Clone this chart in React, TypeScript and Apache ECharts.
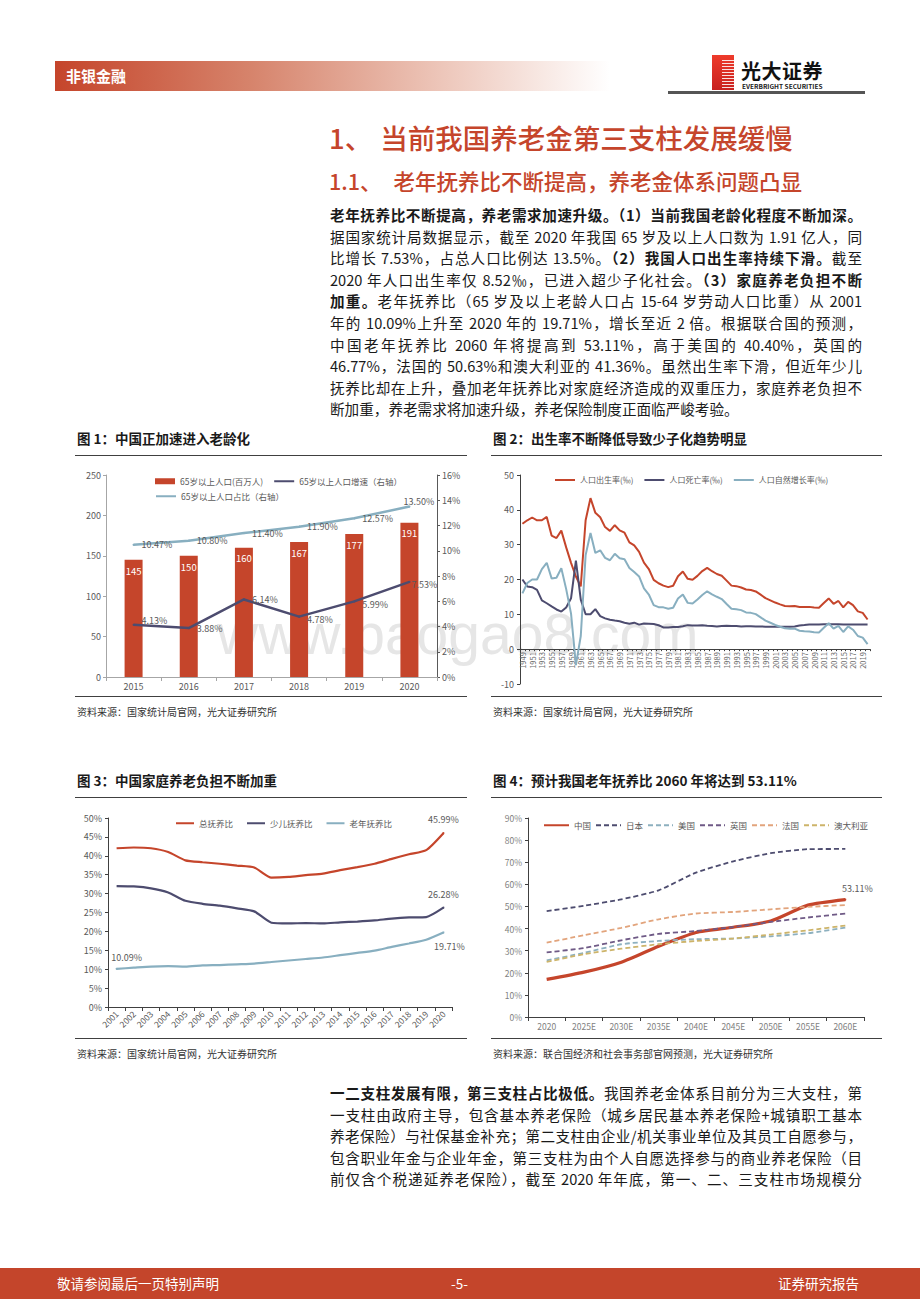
import React, { useEffect, useRef } from "react";
import * as echarts from "echarts";

const FONT = '"Noto Sans CJK SC", "Noto Sans", sans-serif';
const RED = "#C5452B";
const NAVY = "#4D4C6F";
const LBLUE = "#88AFC0";
const LABEL = "#595959";

// ---------- Figure 1 ----------
const fig1Years = ["2015", "2016", "2017", "2018", "2019", "2020"];
const fig1Pop = [145, 150, 160, 167, 177, 191];
const fig1Growth = [4.13, 3.88, 6.14, 4.78, 5.99, 7.53];
const fig1Share = [10.47, 10.8, 11.4, 11.9, 12.57, 13.5];
const fig1Names = ["65岁以上人口(百万人)", "65岁以上人口增速（右轴）", "65岁以上人口占比（右轴）"];

// ---------- Figure 2 ----------
const fig2Years = [
  "1949", "1950", "1951", "1952", "1953", "1954", "1955", "1956", "1957", "1958",
  "1959", "1960", "1961", "1962", "1963", "1964", "1965", "1966", "1967", "1968",
  "1969", "1970", "1971", "1972", "1973", "1974", "1975", "1976", "1977", "1978",
  "1979", "1980", "1981", "1982", "1983", "1984", "1985", "1986", "1987", "1988",
  "1989", "1990", "1991", "1992", "1993", "1994", "1995", "1996", "1997", "1998",
  "1999", "2000", "2001", "2002", "2003", "2004", "2005", "2006", "2007", "2008",
  "2009", "2010", "2011", "2012", "2013", "2014", "2015", "2016", "2017", "2018",
  "2019", "2020",
];
const fig2Birth = [
  36.0, 37.0, 37.8, 37.0, 37.0, 37.97, 32.6, 31.9, 34.03, 29.22,
  24.78, 20.86, 18.02, 37.01, 43.37, 39.14, 37.88, 35.05, 33.96, 35.59,
  34.11, 33.43, 30.65, 29.77, 27.93, 24.82, 23.01, 19.91, 18.93, 18.25,
  17.82, 18.21, 20.91, 22.28, 20.19, 19.9, 21.04, 22.43, 23.33, 22.37,
  21.58, 21.06, 19.68, 18.24, 18.09, 17.7, 17.12, 16.98, 16.57, 15.64,
  14.64, 14.03, 13.38, 12.86, 12.41, 12.29, 12.4, 12.09, 12.1, 12.14,
  11.95, 11.9, 13.27, 14.57, 13.03, 13.83, 11.99, 13.57, 12.64, 10.86,
  10.41, 8.52,
];
const fig2Death = [
  20.0, 18.0, 17.8, 17.0, 14.0, 13.18, 12.28, 11.4, 10.8, 11.98,
  14.59, 25.43, 14.24, 10.02, 10.04, 11.5, 9.5, 8.83, 8.43, 8.21,
  8.03, 7.6, 7.32, 7.61, 7.04, 7.34, 7.32, 7.25, 6.87, 6.25,
  6.21, 6.34, 6.36, 6.6, 6.9, 6.82, 6.78, 6.86, 6.72, 6.64,
  6.54, 6.67, 6.7, 6.64, 6.64, 6.49, 6.57, 6.56, 6.51, 6.5,
  6.46, 6.45, 6.43, 6.41, 6.4, 6.42, 6.51, 6.81, 6.93, 7.06,
  7.08, 7.11, 7.14, 7.13, 7.13, 7.12, 7.11, 7.09, 7.11, 7.08,
  7.09, 7.07,
];
const fig2Natural = [
  16.0, 19.0, 20.0, 20.0, 23.0, 24.79, 20.32, 20.5, 23.23, 17.24,
  10.19, -4.57, 3.78, 26.99, 33.33, 27.64, 28.38, 26.22, 25.53, 27.38,
  26.08, 25.83, 23.33, 22.16, 20.89, 17.48, 15.69, 12.66, 12.06, 12.0,
  11.61, 11.87, 14.55, 15.68, 13.29, 13.08, 14.26, 15.57, 16.61, 15.73,
  15.04, 14.39, 12.98, 11.6, 11.45, 11.21, 10.55, 10.42, 10.06, 9.14,
  8.18, 7.58, 6.95, 6.45, 6.01, 5.87, 5.89, 5.28, 5.17, 5.08,
  4.87, 4.79, 6.13, 7.43, 5.9, 6.71, 4.93, 6.53, 5.58, 3.78,
  3.32, 1.45,
];
const fig2Names = ["人口出生率(‰)", "人口死亡率(‰)", "人口自然增长率(‰)"];
const fig2YMin = -10;
const fig2YMax = 50;

// ---------- Figure 3 ----------
const fig3Years = [
  "2001", "2002", "2003", "2004", "2005", "2006", "2007", "2008", "2009", "2010",
  "2011", "2012", "2013", "2014", "2015", "2016", "2017", "2018", "2019", "2020",
];
const fig3Total = [42.0, 42.2, 42.0, 41.0, 38.8, 38.3, 37.9, 37.4, 36.9, 34.2, 34.4, 34.9, 35.3, 36.2, 37.0, 37.9, 39.2, 40.4, 41.5, 45.99];
const fig3Child = [32.0, 31.9, 31.4, 30.3, 28.1, 27.3, 26.8, 26.1, 25.3, 22.3, 22.1, 22.2, 22.1, 22.4, 22.6, 22.9, 23.4, 23.7, 23.8, 26.28];
const fig3Elder = [10.09, 10.4, 10.7, 10.8, 10.7, 11.0, 11.1, 11.3, 11.5, 11.9, 12.3, 12.7, 13.1, 13.7, 14.3, 14.9, 15.9, 16.8, 17.8, 19.71];
const fig3Names = ["总抚养比", "少儿抚养比", "老年抚养比"];

// ---------- Figure 4 ----------
const fig4Years = ["2020", "2025E", "2030E", "2035E", "2040E", "2045E", "2050E", "2055E", "2060E"];
const fig4China = [17.0, 20.3, 24.8, 32.0, 38.2, 40.6, 43.4, 50.6, 53.11];
const fig4Japan = [47.9, 50.3, 53.2, 57.3, 65.3, 70.4, 74.1, 75.9, 76.0];
const fig4USA = [25.6, 29.0, 32.9, 34.4, 35.2, 35.5, 36.5, 37.9, 40.4];
const fig4UK = [29.2, 31.2, 34.7, 37.6, 38.9, 40.7, 43.0, 45.0, 46.77];
const fig4France = [33.6, 37.0, 40.3, 44.2, 46.8, 47.5, 48.7, 49.8, 50.63];
const fig4Australia = [24.9, 28.4, 30.9, 32.9, 34.4, 35.5, 37.3, 39.2, 41.36];
const fig4Names = ["中国", "日本", "美国", "英国", "法国", "澳大利亚"];
const fig4Colors = [RED, "#4D4C6F", "#8DB0BF", "#6F5A86", "#E2A47C", "#CDB46A"];

// ---------- helpers ----------
const pct = (p: any) => Number(p.value).toFixed(2) + "%";

function labeled(vals: number[], cfg: Record<number, any>, color: string) {
  return vals.map((v, i) =>
    cfg[i]
      ? { value: v, symbol: "circle", symbolSize: 2, itemStyle: { color }, label: { show: true, ...cfg[i] } }
      : v
  );
}

const axLabel = (extra: any = {}) => ({ color: LABEL, fontSize: 9, fontFamily: FONT, ...extra });
const valLabel = (extra: any = {}) => axLabel({ showMinLabel: true, showMaxLabel: true, ...extra });
const axLine = (color: string) => ({ show: true, lineStyle: { color, width: 1 } });
const legendText = (size = 8.5) => ({ color: LABEL, fontSize: size, fontFamily: FONT });
// legend entry for a line series: hide the marker dot so only the line shows
const lineItem = (name: string) => ({ name, itemStyle: { opacity: 0 } });

function lineSeries(name: string, x: number, y: number, data: any[], color: string, width: number, extra: any = {}) {
  return {
    type: "line",
    name,
    xAxisIndex: x,
    yAxisIndex: y,
    data,
    symbol: "none",
    showAllSymbol: true,
    itemStyle: { color },
    lineStyle: { color, width },
    label: { show: false, formatter: pct, color: LABEL, fontSize: 9, fontFamily: FONT },
    emphasis: { disabled: true },
    ...extra,
  };
}

const GRID2 = { left: 520, top: 475, width: 350, height: 209 };
// the category axis of figure 2 sits on the value 0 of its y axis
const fig2ZeroOffset = (GRID2.height * (0 - fig2YMin)) / (fig2YMax - fig2YMin);

function buildOption(): any {
  return {
    animation: false,
    textStyle: { fontFamily: FONT },
    grid: [
      { left: 106, top: 475, width: 331, height: 202 },
      GRID2,
      { left: 108, top: 818, width: 344, height: 189 },
      { left: 528, top: 818, width: 336, height: 199 },
    ],
    xAxis: [
      {
        gridIndex: 0, type: "category", data: fig1Years,
        axisLine: axLine("#A6A6A6"), axisTick: { show: true, length: 4, lineStyle: { color: "#A6A6A6" } },
        axisLabel: axLabel({ margin: 5 }),
      },
      {
        gridIndex: 1, type: "category", data: fig2Years, position: "bottom",
        offset: -fig2ZeroOffset,
        axisLine: { show: true, onZero: false, lineStyle: { color: "#404040" } },
        axisTick: { show: true, length: 2, interval: 0, lineStyle: { color: "#404040" } },
        axisLabel: axLabel({ rotate: 90, interval: 1, fontSize: 7.5, margin: 3, color: "#6E6E6E" }),
      },
      {
        gridIndex: 2, type: "category", data: fig3Years,
        axisLine: axLine("#404040"), axisTick: { show: true, length: 4, lineStyle: { color: "#404040" } },
        axisLabel: axLabel({ rotate: 45, fontSize: 8.5, margin: 5, interval: 0 }),
      },
      {
        gridIndex: 3, type: "category", data: fig4Years,
        axisLine: axLine("#404040"), axisTick: { show: true, length: 4, lineStyle: { color: "#404040" } },
        axisLabel: axLabel({ margin: 5, fontSize: 8.5, color: "#7F7F7F" }),
      },
    ],
    yAxis: [
      {
        gridIndex: 0, type: "value", min: 0, max: 250, interval: 50, position: "left",
        axisLine: axLine("#A6A6A6"), axisTick: { show: true, length: 3, lineStyle: { color: "#A6A6A6" } },
        splitLine: { show: false }, axisLabel: valLabel({ margin: 5 }),
      },
      {
        gridIndex: 0, type: "value", min: 0, max: 16, interval: 2, position: "right",
        axisLine: axLine("#595959"), axisTick: { show: true, length: 3, lineStyle: { color: "#595959" } },
        splitLine: { show: false }, axisLabel: valLabel({ margin: 5, formatter: "{value}%" }),
      },
      {
        gridIndex: 1, type: "value", min: fig2YMin, max: fig2YMax, interval: 10,
        axisLine: { show: true, onZero: false, lineStyle: { color: "#404040" } },
        axisTick: { show: true, length: 3, lineStyle: { color: "#404040" } },
        splitLine: { show: false },
        axisLabel: valLabel({ margin: 6 }),
      },
      {
        gridIndex: 2, type: "value", min: 0, max: 50, interval: 5,
        axisLine: axLine("#404040"), axisTick: { show: true, length: 3, lineStyle: { color: "#404040" } },
        splitLine: { show: false }, axisLabel: valLabel({ margin: 6, formatter: "{value}%" }),
      },
      {
        gridIndex: 3, type: "value", min: 0, max: 90, interval: 10,
        axisLine: axLine("#404040"), axisTick: { show: true, length: 3, lineStyle: { color: "#404040" } },
        splitLine: { show: false }, axisLabel: valLabel({ margin: 6, fontSize: 8.5, color: "#7F7F7F", formatter: "{value}%" }),
      },
    ],
    legend: [
      {
        left: 150, top: 472, itemWidth: 20, itemHeight: 6, itemGap: 10, selectedMode: false,
        textStyle: legendText(), data: [{ name: fig1Names[0], icon: "rect" }, lineItem(fig1Names[1])],
      },
      {
        left: 150, top: 487, itemWidth: 20, itemHeight: 6, selectedMode: false,
        textStyle: legendText(), data: [lineItem(fig1Names[2])],
      },
      {
        left: 549, top: 471, itemWidth: 20, itemHeight: 6, itemGap: 10, selectedMode: false,
        textStyle: legendText(8), data: fig2Names.map(lineItem),
      },
      {
        left: 170, top: 814, itemWidth: 18, itemHeight: 6, itemGap: 13, selectedMode: false,
        textStyle: legendText(), data: fig3Names.map(lineItem),
      },
      {
        left: 538, top: 816, itemWidth: 25, itemHeight: 6, itemGap: 4, selectedMode: false,
        textStyle: legendText(8.5), data: fig4Names.map(lineItem),
      },
    ],
    series: [
      // Figure 1
      {
        type: "bar", name: fig1Names[0], xAxisIndex: 0, yAxisIndex: 0, data: fig1Pop,
        barWidth: 18, itemStyle: { color: RED },
        label: { show: true, position: "insideTop", distance: 6, color: "#fff", fontSize: 9.5, fontFamily: FONT },
        emphasis: { disabled: true },
      },
      lineSeries(fig1Names[1], 0, 1,
        labeled(fig1Growth, {
          0: { position: "right", distance: 7, offset: [0, -4] },
          1: { position: "right", distance: 7 },
          2: { position: "right", distance: 7 },
          3: { position: "right", distance: 7, offset: [0, 3] },
          4: { position: "right", distance: 7, offset: [0, 3] },
          5: { position: "right", distance: 3, offset: [-2, 3] },
        }, NAVY), NAVY, 2.5),
      lineSeries(fig1Names[2], 0, 1,
        labeled(fig1Share, {
          0: { position: "right", distance: 7 },
          1: { position: "right", distance: 7 },
          2: { position: "right", distance: 7 },
          3: { position: "right", distance: 7 },
          4: { position: "right", distance: 7 },
          5: { position: "right", distance: 3, offset: [-10, -5] },
        }, LBLUE), LBLUE, 2.5),
      // Figure 2
      lineSeries(fig2Names[0], 1, 2, fig2Birth, RED, 2),
      lineSeries(fig2Names[1], 1, 2, fig2Death, NAVY, 2),
      lineSeries(fig2Names[2], 1, 2, fig2Natural, LBLUE, 2),
      // Figure 3
      lineSeries(fig3Names[0], 2, 3,
        labeled(fig3Total, { 19: { position: "top", distance: 8 } }, RED), RED, 2.2, { smooth: 0.2 }),
      lineSeries(fig3Names[1], 2, 3,
        labeled(fig3Child, { 19: { position: "top", distance: 8 } }, NAVY), NAVY, 2.2, { smooth: 0.2 }),
      lineSeries(fig3Names[2], 2, 3,
        labeled(fig3Elder, {
          0: { position: "top", distance: 6, offset: [10, 0] },
          19: { position: "bottom", distance: 8, offset: [6, 0] },
        }, LBLUE), LBLUE, 2.2, { smooth: 0.2 }),
      // Figure 4
      lineSeries(fig4Names[0], 3, 4,
        labeled(fig4China, { 8: { position: "top", distance: 6, offset: [12, 0] } }, RED), RED, 3.2, { smooth: 0.2 }),
      ...[fig4Japan, fig4USA, fig4UK, fig4France, fig4Australia].map((vals, k) =>
        lineSeries(fig4Names[k + 1], 3, 4, vals, fig4Colors[k + 1], 1.8, {
          smooth: 0.2,
          lineStyle: { color: fig4Colors[k + 1], width: 1.8, type: [5, 3] },
        })
      ),
    ],
  };
}

// ---------- page text ----------
const topLines: React.ReactNode[] = [
  <b key="a">老年抚养比不断提高，养老需求加速升级。（1）当前我国老龄化程度不断加深。</b>,
  <>据国家统计局数据显示，截至 2020 年我国 65 岁及以上人口数为 1.91 亿人，同</>,
  <>比增长 7.53%，占总人口比例达 13.5%。<b>（2）我国人口出生率持续下滑。</b>截至</>,
  <>2020 年人口出生率仅 8.52‰，已进入超少子化社会。<b>（3）家庭养老负担不断</b></>,
  <><b>加重。</b>老年抚养比（65 岁及以上老龄人口占 15-64 岁劳动人口比重）从 2001</>,
  <>年的 10.09%上升至 2020 年的 19.71%，增长至近 2 倍。根据联合国的预测，</>,
  <>中国老年抚养比 2060 年将提高到 53.11%，高于美国的 40.40%，英国的</>,
  <>46.77%，法国的 50.63%和澳大利亚的 41.36%。虽然出生率下滑，但近年少儿</>,
  <>抚养比却在上升，叠加老年抚养比对家庭经济造成的双重压力，家庭养老负担不</>,
  <>断加重，养老需求将加速升级，养老保险制度正面临严峻考验。</>,
];

const bottomLines: React.ReactNode[] = [
  <><b>一二支柱发展有限，第三支柱占比极低。</b>我国养老金体系目前分为三大支柱，第</>,
  <>一支柱由政府主导，包含基本养老保险（城乡居民基本养老保险+城镇职工基本</>,
  <>养老保险）与社保基金补充；第二支柱由企业/机关事业单位及其员工自愿参与，</>,
  <>包含职业年金与企业年金，第三支柱为由个人自愿选择参与的商业养老保险（目</>,
  <>前仅含个税递延养老保险），截至 2020 年年底，第一、二、三支柱市场规模分</>,
];

const abs = (left: number, top: number, extra: any = {}): React.CSSProperties => ({
  position: "absolute", left, top, zIndex: 2, ...extra,
});

function BodyLine({ y, last, children }: { y: number; last?: boolean; children: React.ReactNode }) {
  return (
    <div
      style={abs(330, y - 11, {
        width: 532, height: 22, lineHeight: "22px", fontSize: 14.6, color: "#1a1a1a",
        textAlign: "justify", textAlignLast: last ? "left" : "justify", overflow: "visible",
      })}
    >
      {children}
    </div>
  );
}

function FigHeader({ x, y, title, width }: { x: number; y: number; title: string; width: number }) {
  return (
    <>
      <div style={abs(x, y - 10, { fontSize: 13.5, lineHeight: "20px", fontWeight: 700, color: "#1a1a1a", whiteSpace: "nowrap" })}>
        {title}
      </div>
      <div style={abs(x - 2, y + 17, { width, height: 1, background: "#404040" })} />
    </>
  );
}

function FigFooter({ x, y, source, width }: { x: number; y: number; source: string; width: number }) {
  return (
    <>
      <div style={abs(x - 2, y, { width, height: 1, background: "#404040" })} />
      <div style={abs(x, y + 9, { fontSize: 10, lineHeight: "14px", color: "#333", whiteSpace: "nowrap" })}>{source}</div>
    </>
  );
}

export default function App() {
  const ref = useRef<HTMLDivElement>(null);
  useEffect(() => {
    const chart = echarts.init(ref.current!, undefined, { renderer: "svg", width: 920, height: 1302 });
    chart.setOption(buildOption());
    return () => chart.dispose();
  }, []);

  return (
    <div style={{ position: "absolute", left: 0, top: 0, width: 920, height: 1302, overflow: "hidden", background: "#fff", fontFamily: FONT }}>
      {/* watermark */}
      <div style={{ position: "absolute", left: 217, top: 606, zIndex: 0, fontFamily: '"Liberation Sans", Arial, sans-serif', fontSize: 57, lineHeight: "57px", color: "#E6E6E6", whiteSpace: "nowrap" }}>
        www.baogao8.com
      </div>

      {/* header */}
      <div style={abs(55, 61, { width: 555, height: 30, background: "linear-gradient(to right, #C5452B 0%, #D6836B 35%, #ECC3B6 68%, #FFFFFF 100%)" })} />
      <div style={abs(66, 64, { fontSize: 15, lineHeight: "24px", fontWeight: 700, color: "#fff" })}>非银金融</div>
      <div style={abs(712, 55, { width: 22, height: 35, background: "linear-gradient(to bottom, #EE3B2B, #C8201E)" })} />
      <div style={abs(722, 58, { width: 12, height: 30, background: "repeating-linear-gradient(to bottom, rgba(255,255,255,0) 0px, rgba(255,255,255,0) 2px, rgba(255,255,255,0.85) 2px, rgba(255,255,255,0.85) 3px)" })} />
      <div style={abs(741, 58, { fontSize: 20, lineHeight: "26px", fontWeight: 700, color: "#111", letterSpacing: 0.5 })}>光大证券</div>
      <div style={abs(742, 82, { fontSize: 6.5, lineHeight: "8px", fontWeight: 700, color: "#222", whiteSpace: "nowrap" })}>EVERBRIGHT SECURITIES</div>
      <div style={abs(668, 91, { width: 197, height: 3, background: "#555" })} />

      {/* headings */}
      <div style={abs(329, 119, { fontSize: 27.5, lineHeight: "36px", fontWeight: 500, color: RED, whiteSpace: "nowrap" })}>
        1、<span style={{ marginLeft: 8 }}>当前我国养老金第三支柱发展缓慢</span>
      </div>
      <div style={abs(329, 166, { fontSize: 21.5, lineHeight: "30px", fontWeight: 500, color: RED, whiteSpace: "nowrap" })}>
        1.1、<span style={{ marginLeft: 12 }}>老年抚养比不断提高，养老金体系问题凸显</span>
      </div>

      {topLines.map((l, i) => (
        <BodyLine key={"t" + i} y={215 + 21.6 * i} last={i === topLines.length - 1}>{l}</BodyLine>
      ))}

      <FigHeader x={77} y={438} title="图 1：中国正加速进入老龄化" width={392} />
      <FigHeader x={493} y={438} title="图 2：出生率不断降低导致少子化趋势明显" width={391} />
      <FigFooter x={77} y={696} source="资料来源：国家统计局官网，光大证券研究所" width={392} />
      <FigFooter x={493} y={696} source="资料来源：国家统计局官网，光大证券研究所" width={391} />

      <FigHeader x={77} y={780} title="图 3：中国家庭养老负担不断加重" width={392} />
      <FigHeader x={493} y={780} title="图 4：预计我国老年抚养比 2060 年将达到 53.11%" width={391} />
      <FigFooter x={77} y={1038} source="资料来源：国家统计局官网，光大证券研究所" width={392} />
      <FigFooter x={493} y={1038} source="资料来源：联合国经济和社会事务部官网预测，光大证券研究所" width={391} />

      {bottomLines.map((l, i) => (
        <BodyLine key={"b" + i} y={1093 + 21.6 * i}>{l}</BodyLine>
      ))}

      {/* footer */}
      <div style={abs(0, 1268, { width: 920, height: 31, background: "#C4452B" })} />
      <div style={abs(57, 1271, { fontSize: 13.5, lineHeight: "24px", color: "#fff", whiteSpace: "nowrap" })}>敬请参阅最后一页特别声明</div>
      <div style={abs(451, 1271, { fontSize: 13.5, lineHeight: "24px", color: "#fff" })}>-5-</div>
      <div style={abs(778, 1271, { fontSize: 13.5, lineHeight: "24px", color: "#fff", whiteSpace: "nowrap" })}>证券研究报告</div>

      <div ref={ref} style={{ position: "absolute", left: 0, top: 0, width: 920, height: 1302, zIndex: 1 }} />
    </div>
  );
}
